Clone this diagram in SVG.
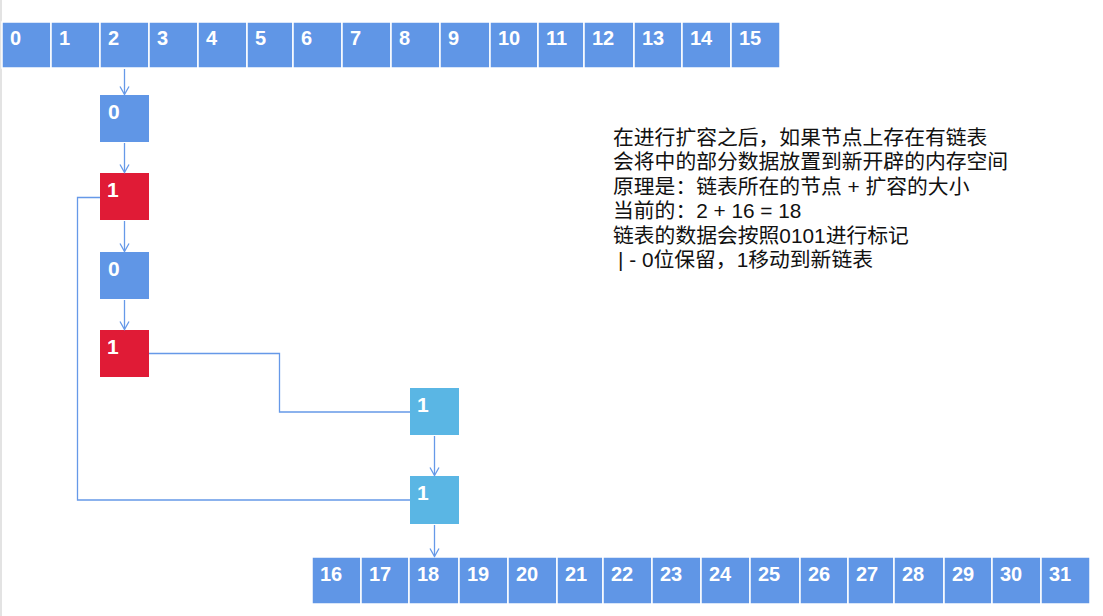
<svg xmlns="http://www.w3.org/2000/svg" width="1103" height="616" viewBox="0 0 1103 616">
<style>
.cell{fill:#6096e6;stroke:#ffffff;stroke-width:1.5}
.num{font-family:"Liberation Sans",Arial,sans-serif;font-weight:bold;font-size:20px;fill:#ffffff}
.nnum{font-family:"Liberation Sans",Arial,sans-serif;font-weight:bold;font-size:21px;fill:#ffffff}
.blue{fill:#6096e6}
.red{fill:#e01b36}
.lblue{fill:#5ab6e4}
.conn{fill:none;stroke:#6699e8;stroke-width:1.3}
.note{font-family:"Liberation Sans","Noto Sans CJK SC",sans-serif;font-size:20.8px;fill:#111111}
</style>
<defs>
<marker id="arr" viewBox="-10 -6 12 12" refX="0" refY="0" markerWidth="12" markerHeight="12" markerUnits="userSpaceOnUse" orient="auto">
<path d="M-8,-4.5 L0,0 L-8,4.5" fill="none" stroke="#6699e8" stroke-width="1.3"/>
</marker>
</defs>
<rect x="0" y="0" width="1103" height="616" fill="#ffffff"/>
<rect x="0" y="0" width="2" height="616" fill="#e3e3e3"/>

<g id="top-row">
<rect class="cell" x="2" y="22" width="49" height="46"/><text class="num" x="10" y="45">0</text>
<rect class="cell" x="51" y="22" width="49" height="46"/><text class="num" x="59" y="45">1</text>
<rect class="cell" x="100" y="22" width="49" height="46"/><text class="num" x="108" y="45">2</text>
<rect class="cell" x="149" y="22" width="49" height="46"/><text class="num" x="157" y="45">3</text>
<rect class="cell" x="198" y="22" width="49" height="46"/><text class="num" x="206" y="45">4</text>
<rect class="cell" x="247" y="22" width="46" height="46"/><text class="num" x="255" y="45">5</text>
<rect class="cell" x="293" y="22" width="49" height="46"/><text class="num" x="301" y="45">6</text>
<rect class="cell" x="342" y="22" width="49" height="46"/><text class="num" x="350" y="45">7</text>
<rect class="cell" x="391" y="22" width="49" height="46"/><text class="num" x="399" y="45">8</text>
<rect class="cell" x="440" y="22" width="50" height="46"/><text class="num" x="448" y="45">9</text>
<rect class="cell" x="490" y="22" width="48" height="46"/><text class="num" x="498" y="45">10</text>
<rect class="cell" x="538" y="22" width="46" height="46"/><text class="num" x="546" y="45">11</text>
<rect class="cell" x="584" y="22" width="50" height="46"/><text class="num" x="592" y="45">12</text>
<rect class="cell" x="634" y="22" width="48" height="46"/><text class="num" x="642" y="45">13</text>
<rect class="cell" x="682" y="22" width="49" height="46"/><text class="num" x="690" y="45">14</text>
<rect class="cell" x="731" y="22" width="49" height="46"/><text class="num" x="739" y="45">15</text>
</g>

<g id="bottom-row">
<rect class="cell" x="312" y="557" width="49" height="47"/><text class="num" x="320" y="581">16</text>
<rect class="cell" x="361" y="557" width="48" height="47"/><text class="num" x="369" y="581">17</text>
<rect class="cell" x="409" y="557" width="50" height="47"/><text class="num" x="417" y="581">18</text>
<rect class="cell" x="459" y="557" width="49" height="47"/><text class="num" x="467" y="581">19</text>
<rect class="cell" x="508" y="557" width="49" height="47"/><text class="num" x="516" y="581">20</text>
<rect class="cell" x="557" y="557" width="46" height="47"/><text class="num" x="565" y="581">21</text>
<rect class="cell" x="603" y="557" width="49" height="47"/><text class="num" x="611" y="581">22</text>
<rect class="cell" x="652" y="557" width="49" height="47"/><text class="num" x="660" y="581">23</text>
<rect class="cell" x="701" y="557" width="49" height="47"/><text class="num" x="709" y="581">24</text>
<rect class="cell" x="750" y="557" width="50" height="47"/><text class="num" x="758" y="581">25</text>
<rect class="cell" x="800" y="557" width="48" height="47"/><text class="num" x="808" y="581">26</text>
<rect class="cell" x="848" y="557" width="46" height="47"/><text class="num" x="856" y="581">27</text>
<rect class="cell" x="894" y="557" width="50" height="47"/><text class="num" x="902" y="581">28</text>
<rect class="cell" x="944" y="557" width="48" height="47"/><text class="num" x="952" y="581">29</text>
<rect class="cell" x="992" y="557" width="49" height="47"/><text class="num" x="1000" y="581">30</text>
<rect class="cell" x="1041" y="557" width="49" height="47"/><text class="num" x="1049" y="581">31</text>
</g>

<g id="node-a0"><rect class="blue" x="100" y="95" width="49" height="47"/><text class="nnum" x="108" y="119">0</text></g>
<g id="node-a1"><rect class="red" x="100" y="173" width="49" height="47"/><text class="nnum" x="107" y="197">1</text></g>
<g id="node-a2"><rect class="blue" x="100" y="252" width="49" height="47"/><text class="nnum" x="108" y="276">0</text></g>
<g id="node-a3"><rect class="red" x="100" y="330" width="49" height="47"/><text class="nnum" x="107" y="354">1</text></g>
<g id="node-b0"><rect class="lblue" x="410" y="388" width="49" height="47"/><text class="nnum" x="417" y="412">1</text></g>
<g id="node-b1"><rect class="lblue" x="410" y="476" width="49" height="48"/><text class="nnum" x="417" y="500">1</text></g>

<g id="connectors">
<path class="conn" d="M124.5,69 V94.5" marker-end="url(#arr)"/>
<path class="conn" d="M124.5,143 V172.5" marker-end="url(#arr)"/>
<path class="conn" d="M124.5,221 V251.5" marker-end="url(#arr)"/>
<path class="conn" d="M124.5,300 V329.5" marker-end="url(#arr)"/>
<path class="conn" d="M149,353.5 H279.5 V412 H410"/>
<path class="conn" d="M434.5,436 V475.5" marker-end="url(#arr)"/>
<path class="conn" d="M100,197.5 H77.5 V500 H410"/>
<path class="conn" d="M434.5,525 V556.5" marker-end="url(#arr)"/>
</g>

<g id="note">
<text class="note" x="613" y="145">在进行扩容之后，如果节点上存在有链表</text>
<text class="note" x="613" y="169.4">会将中的部分数据放置到新开辟的内存空间</text>
<text class="note" x="613" y="193.8">原理是：链表所在的节点 + 扩容的大小</text>
<text class="note" x="613" y="218.2">当前的：2 + 16 = 18</text>
<text class="note" x="613" y="242.6">链表的数据会按照0101进行标记</text>
<text class="note" x="618" y="267">| - 0位保留，1移动到新链表</text>
</g>
</svg>
